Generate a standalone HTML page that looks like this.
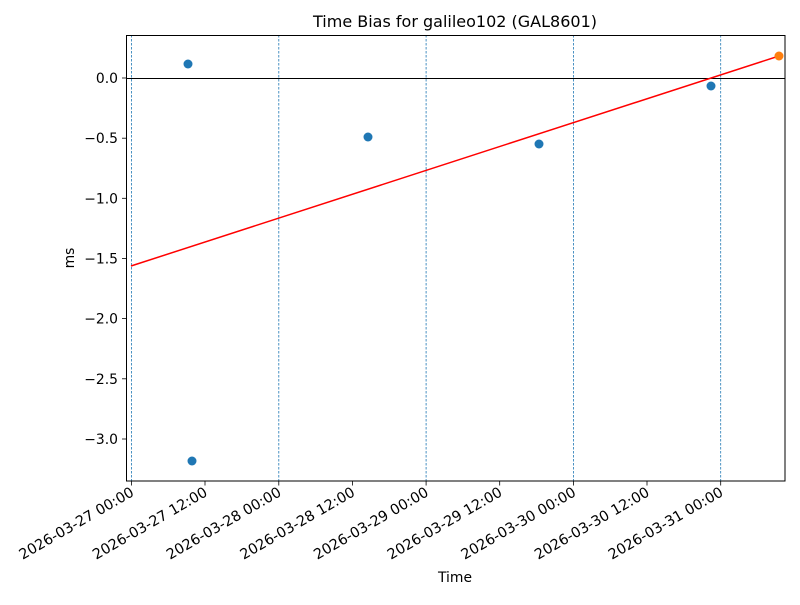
<!DOCTYPE html>
<html><head><style>body{margin:0;background:#fff}</style></head><body>
<svg width="800" height="600" xmlns="http://www.w3.org/2000/svg" font-family="DejaVu Sans, Liberation Sans, sans-serif">
<rect width="800" height="600" fill="#fff"/>
<text x="455" y="27" font-size="16" text-anchor="middle">Time Bias for galileo102 (GAL8601)</text>
<g stroke="#1f77b4" stroke-width="0.8" stroke-dasharray="2.5,1.5">
<line x1="131.5" y1="35" x2="131.5" y2="481"/>
<line x1="278.8" y1="35" x2="278.8" y2="481"/>
<line x1="426.1" y1="35" x2="426.1" y2="481"/>
<line x1="573.4" y1="35" x2="573.4" y2="481"/>
<line x1="720.7" y1="35" x2="720.7" y2="481"/>
</g>
<line x1="126.5" y1="78.5" x2="785" y2="78.5" stroke="#000" stroke-width="1"/>
<line x1="131" y1="266" x2="779" y2="56" stroke="#f00" stroke-width="1.5"/>
<g fill="#1f77b4">
<circle cx="188" cy="64" r="4.5"/><circle cx="192" cy="461" r="4.5"/><circle cx="368" cy="137" r="4.5"/><circle cx="539" cy="144" r="4.5"/><circle cx="711" cy="86" r="4.5"/>
</g>
<circle cx="779" cy="56" r="4.5" fill="#ff7f0e"/>
<rect x="126.5" y="35.5" width="658.5" height="445.5" fill="none" stroke="#000" stroke-width="1"/>
<g stroke="#000" stroke-width="0.8">
<line x1="122" y1="78" x2="126.5" y2="78"/><line x1="122" y1="138.2" x2="126.5" y2="138.2"/><line x1="122" y1="198.3" x2="126.5" y2="198.3"/><line x1="122" y1="258.5" x2="126.5" y2="258.5"/><line x1="122" y1="318.6" x2="126.5" y2="318.6"/><line x1="122" y1="378.8" x2="126.5" y2="378.8"/><line x1="122" y1="439" x2="126.5" y2="439"/>
</g>
<g font-size="13.9" text-anchor="end">
<text x="118" y="83">0.0</text><text x="118" y="143.2">−0.5</text><text x="118" y="203.3">−1.0</text><text x="118" y="263.5">−1.5</text><text x="118" y="323.6">−2.0</text><text x="118" y="383.8">−2.5</text><text x="118" y="444">−3.0</text>
</g>
<g stroke="#000" stroke-width="0.8">
<line x1="131.5" y1="481" x2="131.5" y2="485.5"/><line x1="205" y1="481" x2="205" y2="485.5"/><line x1="278.8" y1="481" x2="278.8" y2="485.5"/><line x1="352.4" y1="481" x2="352.4" y2="485.5"/><line x1="426.1" y1="481" x2="426.1" y2="485.5"/><line x1="499.7" y1="481" x2="499.7" y2="485.5"/><line x1="573.4" y1="481" x2="573.4" y2="485.5"/><line x1="647" y1="481" x2="647" y2="485.5"/><line x1="720.7" y1="481" x2="720.7" y2="485.5"/>
</g>
<g font-size="14.4" text-anchor="end">
<text transform="translate(135,495) rotate(-30)">2026-03-27 00:00</text>
<text transform="translate(208.5,495) rotate(-30)">2026-03-27 12:00</text>
<text transform="translate(282.3,495) rotate(-30)">2026-03-28 00:00</text>
<text transform="translate(356,495) rotate(-30)">2026-03-28 12:00</text>
<text transform="translate(429.6,495) rotate(-30)">2026-03-29 00:00</text>
<text transform="translate(503.2,495) rotate(-30)">2026-03-29 12:00</text>
<text transform="translate(577,495) rotate(-30)">2026-03-30 00:00</text>
<text transform="translate(650.5,495) rotate(-30)">2026-03-30 12:00</text>
<text transform="translate(724.2,495) rotate(-30)">2026-03-31 00:00</text>
</g>
<text x="455" y="582" font-size="13.9" text-anchor="middle">Time</text>
<text transform="translate(74,258) rotate(-90)" font-size="13.9" text-anchor="middle">ms</text>
</svg>
</body></html>
